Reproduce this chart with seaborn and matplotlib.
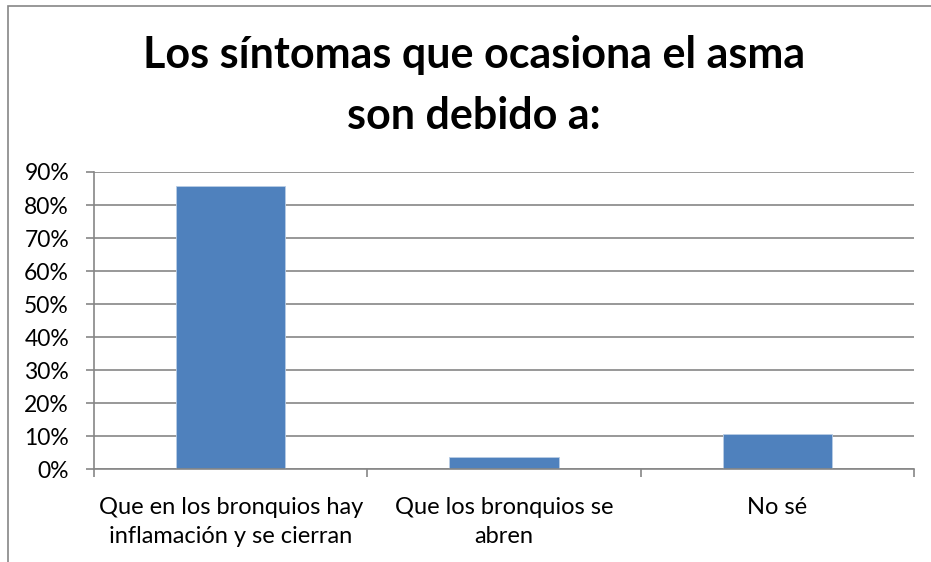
import matplotlib
matplotlib.use("Agg")
import matplotlib.pyplot as plt
import matplotlib.patches as mpatches
from matplotlib.ticker import PercentFormatter
import seaborn as sns
import pandas as pd

categories = ["Que en los bronquios hay\ninflamación y se cierran",
              "Que los bronquios se\nabren",
              "No sé"]
values = [0.857, 0.036, 0.107]
title_lines = ["Los síntomas que ocasiona el asma", "son debido a:"]

sns.set_style("white")
plt.rcParams['font.family'] = ['Lato', 'DejaVu Sans']

df = pd.DataFrame({"cat": categories, "val": values})

fig = plt.figure(figsize=(9.31, 5.62), dpi=100)
ax = fig.add_axes([94/931, 1-469.3/562, (914-94)/931, (469.3-172)/562])

sns.barplot(data=df, x="cat", y="val", ax=ax, color="#4F81BD",
            width=0.4, saturation=1, edgecolor="#B9CDE5", linewidth=0.6)

grid_c = "#868686"
ax.set_ylim(0, 0.9)
ax.set_xlim(-0.5, 2.5)
ax.set_yticks([i/10 for i in range(10)])
ax.yaxis.set_major_formatter(PercentFormatter(1.0, decimals=0))
ax.yaxis.grid(True, color=grid_c, linewidth=1.2)
ax.set_axisbelow(True)
for s in ["top", "right"]:
    ax.spines[s].set_visible(False)
for s in ["left", "bottom"]:
    ax.spines[s].set_color(grid_c)
    ax.spines[s].set_linewidth(1.2)
ax.set_xlabel("")
ax.set_ylabel("")
ax.tick_params(axis="y", length=6, width=1.2, color=grid_c, labelsize=16.5,
               labelcolor="black", pad=12, left=True)
ax.tick_params(axis="x", length=0, labelsize=17, labelcolor="black", pad=20)
for lbl in ax.get_xticklabels():
    lbl.set_linespacing(1.45)
ax.set_xticks([-0.5, 0.5, 1.5, 2.5], minor=True)
ax.tick_params(axis="x", which="minor", length=6, width=1.2, color=grid_c, bottom=True)

fig.text(474/931, 1-55/562, title_lines[0], ha="center", va="center",
         fontsize=31, fontweight="bold", color="black")
fig.text(474/931, 1-116/562, title_lines[1], ha="center", va="center",
         fontsize=31, fontweight="bold", color="black")

border = mpatches.Rectangle((8/931, -0.1), 2, 1.1 - 6/562, transform=fig.transFigure,
                            fill=False, edgecolor=grid_c, linewidth=1.2)
fig.patches.append(border)

fig.savefig("out.png", dpi=100)
